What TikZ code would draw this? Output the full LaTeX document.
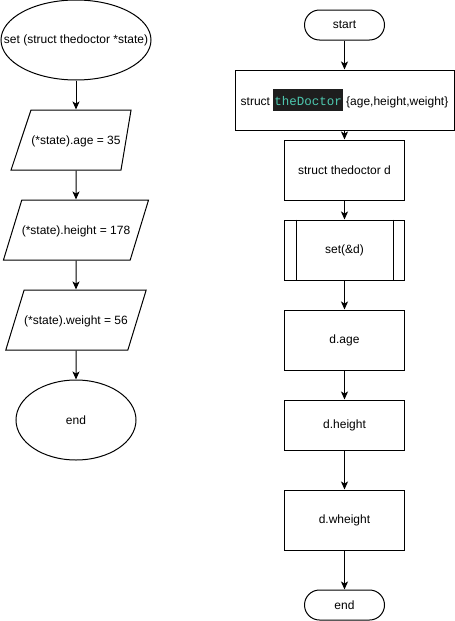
\documentclass[tikz,border=0pt]{standalone}
\usepackage{fontspec}
\setmainfont{Liberation Sans}
\newfontfamily\codefont{Liberation Mono}
\usepackage{xcolor}
\usetikzlibrary{shapes.geometric, arrows.meta, positioning}
\definecolor{codebg}{HTML}{1E1E1E}
\definecolor{codefg}{HTML}{4EC9B0}

\begin{document}
\begin{tikzpicture}[x=1pt, y=-1pt, line width=1pt,
   font=\fontsize{12}{14}\selectfont,
   every node/.style={inner sep=0pt},
   terminal/.style={draw, ellipse, minimum width=120, minimum height=80},
   io/.style={draw, trapezium, trapezium left angle=73, trapezium right angle=107,
      trapezium stretches body, minimum width=136,
      execute at begin node={\rule[-25.7pt]{0pt}{60pt}}},
   proc/.style={draw, rectangle, minimum width=120, minimum height=60},
   pill/.style={draw, rectangle, rounded corners=15, minimum width=80, minimum height=30},
   flow/.style={-{Stealth[length=8pt, width=7pt, inset=2pt]}}]
\useasboundingbox (0,0) rectangle (455,621);

% Function set()
\node[terminal, minimum width=150] (set) at (76,40) {\makebox[0pt]{set (struct thedoctor *state)}};
\node[io, trapezium left angle=71.6, trapezium right angle=99.5, minimum width=120] (age) at (76,140) {(*state).age = 35};
\node[io] (height) at (76,230) {(*state).height = 178};
\node[io] (weight) at (76,320) {(*state).weight = 56};
\node[terminal] (fend) at (76,420) {end};
\foreach \a/\b in {set/age, age/height, height/weight, weight/fend} {
   \draw[flow] (\a) -- (\b);
}

% Main program
\node[pill] (start) at (344.5,25) {start};
\node[proc, minimum width=219] (decl) at (344.5,100) {struct {\fboxsep=1pt\colorbox{codebg}{\rule[-5pt]{0pt}{20pt}\codefont\fontsize{12.5}{14}\selectfont\textcolor{codefg}{theDoctor}}} \{age,height,weight\}};
\node[proc] (var) at (344.5,170) {struct thedoctor d};
\node[proc] (call) at (344.5,250) {set(\&d)};
\draw ([xshift=12]call.north west) -- ([xshift=12]call.south west);
\draw ([xshift=-12]call.north east) -- ([xshift=-12]call.south east);
\node[proc] (dage) at (344.5,340) {d.age};
\node[proc, minimum height=50] (dheight) at (344.5,425) {d.height};
\node[proc] (dweight) at (344.5,520) {d.wheight};
\node[pill] (mend) at (344.5,605) {end};
\foreach \a/\b in {start/decl, decl/var, var/call, call/dage, dage/dheight, dheight/dweight, dweight/mend} {
   \draw[flow] (\a) -- (\b);
}
\end{tikzpicture}
\end{document}
